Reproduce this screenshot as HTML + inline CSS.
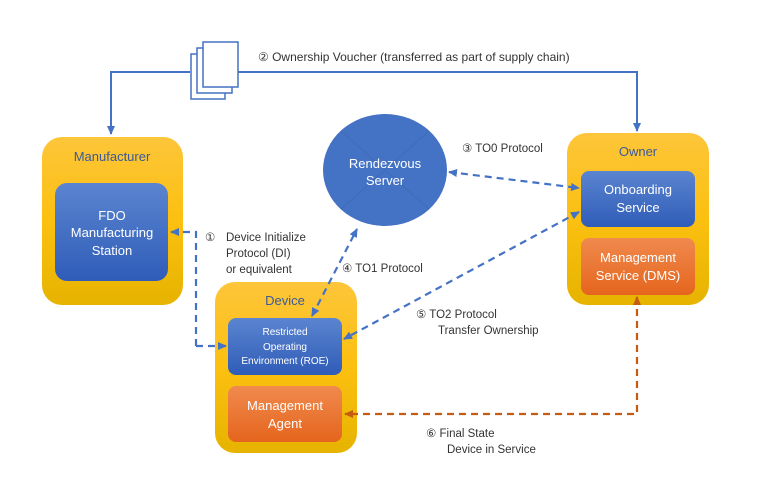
<!DOCTYPE html>
<html><head><meta charset="utf-8"><style>
html,body{margin:0;padding:0;background:#fff;}
svg{display:block;}
text{font-family:"Liberation Sans",sans-serif;}
</style></head><body>
<svg width="757" height="487" viewBox="0 0 757 487" xmlns="http://www.w3.org/2000/svg">
<defs>
<linearGradient id="gy" x1="0" y1="0" x2="0" y2="1"><stop offset="0" stop-color="#fdc53a"/><stop offset="0.5" stop-color="#fcc010"/><stop offset="1" stop-color="#e6b300"/></linearGradient>
<linearGradient id="gb" x1="0" y1="0" x2="0" y2="1"><stop offset="0" stop-color="#5b85d0"/><stop offset="1" stop-color="#2f5cb8"/></linearGradient>
<linearGradient id="go" x1="0" y1="0" x2="0" y2="1"><stop offset="0" stop-color="#f08a4e"/><stop offset="1" stop-color="#e5651d"/></linearGradient>
<marker id="ab" markerWidth="10" markerHeight="10" refX="8" refY="5" orient="auto-start-reverse" markerUnits="userSpaceOnUse"><path d="M0,1 L9,5 L0,9 z" fill="#4472c4"/></marker>
<marker id="ao" markerWidth="10" markerHeight="10" refX="8" refY="5" orient="auto-start-reverse" markerUnits="userSpaceOnUse"><path d="M0,1 L9,5 L0,9 z" fill="#c55a11"/></marker>
</defs>

<path d="M190,72 H111 V134" fill="none" stroke="#4472c4" stroke-width="2" marker-end="url(#ab)"/>
<path d="M238,72 H637 V131" fill="none" stroke="#4472c4" stroke-width="2" marker-end="url(#ab)"/>
<rect x="191" y="54" width="34" height="45" fill="#fff" stroke="#4472c4" stroke-width="1.5"/>
<rect x="197" y="48" width="35" height="45" fill="#fff" stroke="#4472c4" stroke-width="1.5"/>
<rect x="203" y="42" width="35" height="45" fill="#fff" stroke="#4472c4" stroke-width="1.5"/>
<text x="258" y="61" font-size="12" fill="#333">② Ownership Voucher (transferred  as part of supply chain)</text>

<rect x="42" y="137" width="141" height="168" rx="20" fill="url(#gy)"/>
<text x="112" y="161" font-size="13" fill="#3a5a9a" text-anchor="middle">Manufacturer</text>
<rect x="55" y="183" width="113" height="98" rx="12" fill="url(#gb)"/>
<text x="112" y="220" font-size="13" fill="#fff" text-anchor="middle">FDO</text>
<text x="112" y="237" font-size="13" fill="#fff" text-anchor="middle">Manufacturing</text>
<text x="112" y="255" font-size="13" fill="#fff" text-anchor="middle">Station</text>

<ellipse cx="385" cy="170" rx="62" ry="56" fill="#4472c4"/>
<path d="M341,131 L429,209 M429,131 L341,209" stroke="#3f6bb8" stroke-width="1"/>
<text x="385" y="168" font-size="13" fill="#fff" text-anchor="middle">Rendezvous</text>
<text x="385" y="185" font-size="13" fill="#fff" text-anchor="middle">Server</text>

<rect x="567" y="133" width="142" height="172" rx="20" fill="url(#gy)"/>
<text x="638" y="156" font-size="13" fill="#3a5a9a" text-anchor="middle">Owner</text>
<rect x="581" y="171" width="114" height="56" rx="8" fill="url(#gb)"/>
<text x="638" y="194" font-size="13" fill="#fff" text-anchor="middle">Onboarding</text>
<text x="638" y="212" font-size="13" fill="#fff" text-anchor="middle">Service</text>
<rect x="581" y="238" width="114" height="57" rx="8" fill="url(#go)"/>
<text x="638" y="262" font-size="13" fill="#fff" text-anchor="middle">Management</text>
<text x="638" y="280" font-size="13" fill="#fff" text-anchor="middle">Service (DMS)</text>

<rect x="215" y="282" width="142" height="171" rx="20" fill="url(#gy)"/>
<text x="285" y="305" font-size="13" fill="#3a5a9a" text-anchor="middle">Device</text>
<rect x="228" y="318" width="114" height="57" rx="8" fill="url(#gb)"/>
<text x="285" y="335" font-size="10" fill="#fff" text-anchor="middle">Restricted</text>
<text x="285" y="350" font-size="10" fill="#fff" text-anchor="middle">Operating</text>
<text x="285" y="364" font-size="10" fill="#fff" text-anchor="middle">Environment (ROE)</text>
<rect x="228" y="386" width="114" height="56" rx="8" fill="url(#go)"/>
<text x="285" y="410" font-size="13" fill="#fff" text-anchor="middle">Management</text>
<text x="285" y="428" font-size="13" fill="#fff" text-anchor="middle">Agent</text>

<g fill="none" stroke="#4472c4" stroke-width="2.2" stroke-dasharray="7,5">
<path d="M196,346 V232 H171" marker-end="url(#ab)"/>
<path d="M196,346 H226" marker-end="url(#ab)"/>
<path d="M312,316 L357,229" marker-end="url(#ab)" marker-start="url(#ab)"/>
<path d="M449,172 L579,188" marker-end="url(#ab)" marker-start="url(#ab)"/>
<path d="M579,212 L344,339" marker-end="url(#ab)" marker-start="url(#ab)"/>
</g>
<path d="M637,297 V414 H345" fill="none" stroke="#c55a11" stroke-width="2.2" stroke-dasharray="7,5" marker-end="url(#ao)" marker-start="url(#ao)"/>

<g font-size="11.5" fill="#333">
<text x="205" y="241">①</text>
<text x="226" y="241">Device Initialize</text>
<text x="226" y="257">Protocol (DI)</text>
<text x="226" y="273">or equivalent</text>
<text x="342" y="272">④ TO1 Protocol</text>
<text x="462" y="152">③ TO0 Protocol</text>
<text x="416" y="318">⑤ TO2 Protocol</text>
<text x="438" y="334">Transfer  Ownership</text>
<text x="426" y="437">⑥ Final State</text>
<text x="447" y="453">Device  in Service</text>
</g>
</svg>
</body></html>
